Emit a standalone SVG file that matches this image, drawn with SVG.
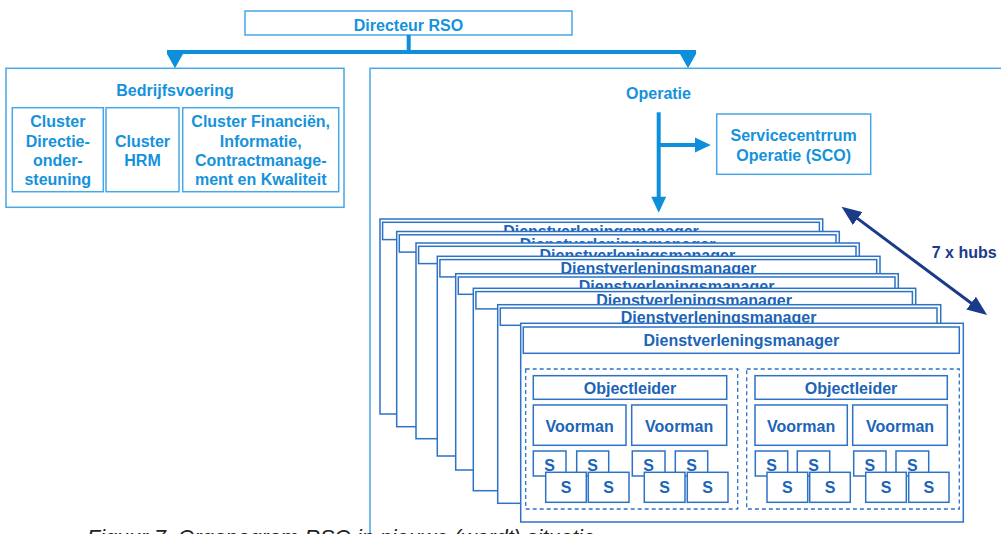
<svg xmlns="http://www.w3.org/2000/svg" width="1001" height="534" viewBox="0 0 1001 534">
<style>
text{font-family:"Liberation Sans",Arial,sans-serif;font-weight:bold;font-size:16px;text-anchor:middle}
.tb{fill:#fff;stroke:#48a7e4;stroke-width:1.5}
.tt{fill:#1592dc}
.cd{fill:#fff;stroke:#2e72c6;stroke-width:1.5}
.ct{fill:#1b64b8}
.dg{fill:none;stroke:#2e72c6;stroke-width:1.3;stroke-dasharray:4 3}
.con{fill:#0d8fdb}
.navy{stroke:#1a3a8a;stroke-width:3;fill:none}
.cap{font-weight:normal;font-style:italic;font-size:21.5px;fill:#222;text-anchor:start}
</style>
<defs>
<marker id="nv" markerUnits="userSpaceOnUse" markerWidth="20" markerHeight="16" refX="2" refY="8" orient="auto-start-reverse">
<path d="M0,0 L20,8 L0,16 z" fill="#1a3a8a"/>
</marker>
<clipPath id="c1" clipPathUnits="userSpaceOnUse"><rect x="380" y="219" width="443" height="12.5"/></clipPath>
<clipPath id="c2" clipPathUnits="userSpaceOnUse"><rect x="396" y="231.5" width="444" height="11.5"/></clipPath>
<clipPath id="c3" clipPathUnits="userSpaceOnUse"><rect x="416" y="243" width="444" height="13.3"/></clipPath>
<clipPath id="c4" clipPathUnits="userSpaceOnUse"><rect x="437" y="256.3" width="444" height="17.4"/></clipPath>
<clipPath id="c5" clipPathUnits="userSpaceOnUse"><rect x="455" y="273.7" width="444" height="14.6"/></clipPath>
<clipPath id="c6" clipPathUnits="userSpaceOnUse"><rect x="473" y="288.3" width="444" height="16.4"/></clipPath>
<clipPath id="c7" clipPathUnits="userSpaceOnUse"><rect x="497" y="304.7" width="444" height="18.6"/></clipPath>
</defs>

<g id="outer-operatie"><rect class="tb" x="370" y="68.3" width="700" height="500"/></g>

<g id="directeur"><rect class="tb" x="245" y="11" width="327" height="24"/><text class="tt" x="408.5" y="30.5">Directeur RSO</text></g>

<g id="bedrijfsvoering">
<rect class="tb" x="6" y="68.3" width="338" height="139"/>
<text class="tt" x="175" y="96">Bedrijfsvoering</text>
</g>
<g id="cluster-directie"><rect class="tb" x="12.3" y="107.7" width="91" height="84"/>
<text class="tt" x="57.8" y="127.3">Cluster</text><text class="tt" x="57.8" y="146.5">Directie-</text><text class="tt" x="57.8" y="165.7">onder-</text><text class="tt" x="57.8" y="184.9">steuning</text></g>
<g id="cluster-hrm"><rect class="tb" x="106" y="107.7" width="73" height="84"/>
<text class="tt" x="142.5" y="146.5">Cluster</text><text class="tt" x="142.5" y="165.7">HRM</text></g>
<g id="cluster-fin"><rect class="tb" x="182.7" y="107.7" width="156" height="84"/>
<text class="tt" x="260.7" y="127.3">Cluster Financiën,</text><text class="tt" x="260.7" y="146.5">Informatie,</text><text class="tt" x="260.7" y="165.7">Contractmanage-</text><text class="tt" x="260.7" y="184.9">ment en Kwaliteit</text></g>

<g id="operatie-label"><text class="tt" x="658.5" y="99">Operatie</text></g>
<g id="sco"><rect class="tb" x="716.7" y="114" width="154" height="60.3"/>
<text class="tt" x="793.7" y="141">Servicecentrrum</text><text class="tt" x="793.7" y="161">Operatie (SCO)</text></g>

<g id="hubs">
<g id="card1"><rect class="cd" x="380" y="219" width="442.7" height="195"/><rect class="cd" x="382.6" y="222.3" width="436.8" height="17.3"/><text class="ct" x="601" y="237.1" clip-path="url(#c1)">Dienstverleningsmanager</text></g>
<g id="card2"><rect class="cd" x="396.7" y="231.5" width="442.6" height="195.2"/><rect class="cd" x="399.3" y="234.8" width="436.7" height="17.3"/><text class="ct" x="617.6" y="249.6" clip-path="url(#c2)">Dienstverleningsmanager</text></g>
<g id="card3"><rect class="cd" x="416" y="243" width="443.3" height="195.7"/><rect class="cd" x="418.6" y="246.3" width="437.4" height="17.3"/><text class="ct" x="637.3" y="261.1" clip-path="url(#c3)">Dienstverleningsmanager</text></g>
<g id="card4"><rect class="cd" x="437.3" y="256.3" width="442.7" height="199.7"/><rect class="cd" x="439.9" y="259.6" width="436.8" height="17.3"/><text class="ct" x="658.3" y="274.4" clip-path="url(#c4)">Dienstverleningsmanager</text></g>
<g id="card5"><rect class="cd" x="455.7" y="273.7" width="442.6" height="196.3"/><rect class="cd" x="458.3" y="277" width="436.7" height="17.3"/><text class="ct" x="676.6" y="291.8" clip-path="url(#c5)">Dienstverleningsmanager</text></g>
<g id="card6"><rect class="cd" x="473.3" y="288.3" width="442.4" height="202.4"/><rect class="cd" x="475.9" y="291.6" width="436.5" height="17.3"/><text class="ct" x="694.1" y="306.4" clip-path="url(#c6)">Dienstverleningsmanager</text></g>
<g id="card7"><rect class="cd" x="497.7" y="304.7" width="443" height="198.6"/><rect class="cd" x="500.3" y="308" width="436.7" height="17.3"/><text class="ct" x="718.6" y="322.8" clip-path="url(#c7)">Dienstverleningsmanager</text></g>
<g id="card8"><rect class="cd" x="520.7" y="323.3" width="442.6" height="198.7"/><rect class="cd" x="523.3" y="327" width="436" height="26.3"/><text class="ct" x="741.3" y="346">Dienstverleningsmanager</text></g>
</g>

<g id="team-left">
<rect class="dg" x="525.7" y="369" width="212" height="140"/>
<rect class="cd" x="533.3" y="375.7" width="193.4" height="23.6"/><text class="ct" x="630" y="394.3">Objectleider</text>
<rect class="cd" x="533.3" y="405" width="92.7" height="40.3"/><text class="ct" x="579.7" y="431.7">Voorman</text>
<rect class="cd" x="631.7" y="405" width="95" height="40.3"/><text class="ct" x="679.2" y="431.7">Voorman</text>
<rect class="cd" x="533.3" y="451" width="32.7" height="25"/><text class="ct" x="549.6" y="470.7">S</text>
<rect class="cd" x="576.7" y="451" width="32" height="25"/><text class="ct" x="592.7" y="470.7">S</text>
<rect class="cd" x="632.3" y="451" width="32.7" height="25"/><text class="ct" x="648.6" y="470.7">S</text>
<rect class="cd" x="675.3" y="451" width="32.4" height="25"/><text class="ct" x="691.5" y="470.7">S</text>
<rect class="cd" x="545.7" y="472.3" width="40.6" height="30"/><text class="ct" x="566" y="493.3">S</text>
<rect class="cd" x="588.3" y="472.3" width="40.7" height="30"/><text class="ct" x="608.6" y="493.3">S</text>
<rect class="cd" x="644.3" y="472.3" width="40.7" height="30"/><text class="ct" x="664.6" y="493.3">S</text>
<rect class="cd" x="687.3" y="472.3" width="40.7" height="30"/><text class="ct" x="707.6" y="493.3">S</text>
</g>

<g id="team-right">
<rect class="dg" x="746.7" y="369" width="212.6" height="140"/>
<rect class="cd" x="755" y="375.7" width="192.3" height="23.6"/><text class="ct" x="851.1" y="394.3">Objectleider</text>
<rect class="cd" x="755" y="405" width="92.3" height="40.3"/><text class="ct" x="801.1" y="431.7">Voorman</text>
<rect class="cd" x="852.7" y="405" width="94.6" height="40.3"/><text class="ct" x="900" y="431.7">Voorman</text>
<rect class="cd" x="755.3" y="451" width="32.4" height="25"/><text class="ct" x="771.5" y="470.7">S</text>
<rect class="cd" x="797.3" y="451" width="32.4" height="25"/><text class="ct" x="813.5" y="470.7">S</text>
<rect class="cd" x="853.7" y="451" width="32.3" height="25"/><text class="ct" x="869.8" y="470.7">S</text>
<rect class="cd" x="896" y="451" width="32.7" height="25"/><text class="ct" x="912.3" y="470.7">S</text>
<rect class="cd" x="767" y="472.3" width="40.7" height="30"/><text class="ct" x="787.3" y="493.3">S</text>
<rect class="cd" x="809.7" y="472.3" width="40.6" height="30"/><text class="ct" x="830" y="493.3">S</text>
<rect class="cd" x="865.7" y="472.3" width="40.6" height="30"/><text class="ct" x="886" y="493.3">S</text>
<rect class="cd" x="908.7" y="472.3" width="40.3" height="30"/><text class="ct" x="928.8" y="493.3">S</text>
</g>

<g id="connectors">
<rect class="con" x="406.7" y="35" width="4" height="17"/>
<rect class="con" x="167" y="50" width="529" height="4"/>
<path class="con" d="M167,54 H183 L175,68.3 z"/>
<path class="con" d="M680,54 H696 L688,68.3 z"/>
<rect class="con" x="656.7" y="112.3" width="4" height="85"/>
<path class="con" d="M651.2,196.7 H666.2 L658.7,212.7 z"/>
<rect class="con" x="658.7" y="143" width="36.5" height="4"/>
<path class="con" d="M695,137.5 V152.5 L710.7,145 z"/>
<path class="navy" d="M856,217.4 L972.7,304.3" marker-start="url(#nv)" marker-end="url(#nv)"/>
</g>
<g id="hubs-label"><text x="931.7" y="257.5" style="fill:#1a3a8a;text-anchor:start">7 x hubs</text></g>

<g id="caption"><text class="cap" x="87" y="544.5">Figuur 7. Organogram RSO in nieuwe (wordt) situatie</text></g>
</svg>
